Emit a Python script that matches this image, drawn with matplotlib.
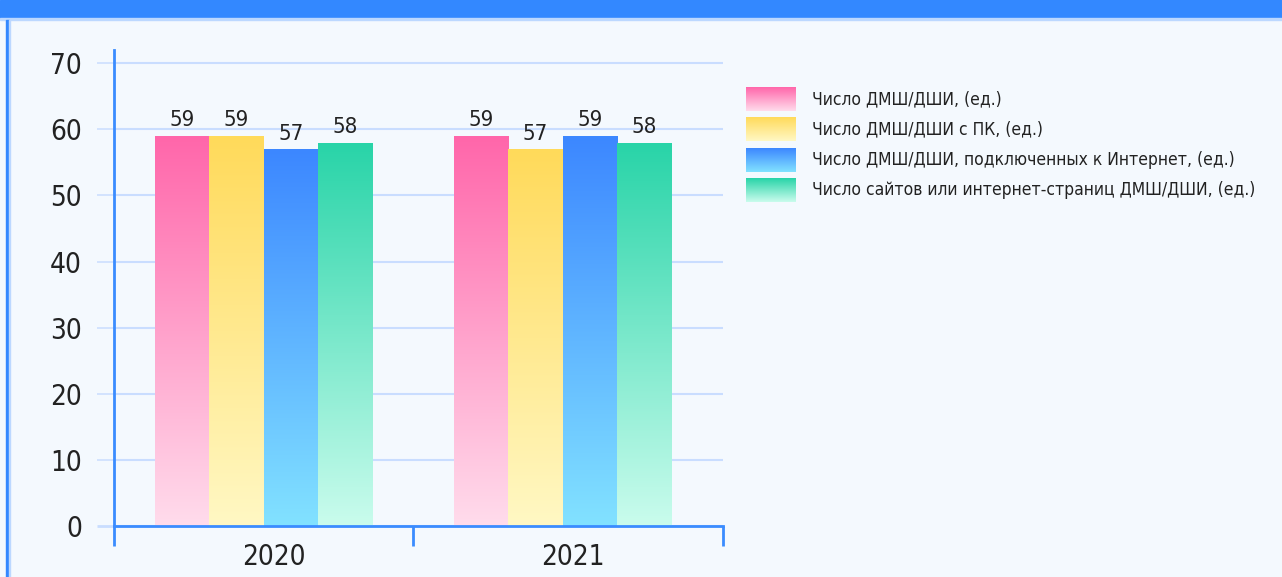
import matplotlib
matplotlib.use("Agg")
import matplotlib.pyplot as plt
import numpy as np
from matplotlib.colors import LinearSegmentedColormap
from matplotlib.patches import Rectangle
from matplotlib.transforms import ScaledTranslation

plt.rcParams["font.family"] = ["DejaVu Sans"]
plt.rcParams["font.stretch"] = "condensed"

years = ["2020", "2021"]
series_labels = [
    "Число ДМШ/ДШИ, (ед.)",
    "Число ДМШ/ДШИ с ПК, (ед.)",
    "Число ДМШ/ДШИ, подключенных к Интернет, (ед.)",
    "Число сайтов или интернет-страниц ДМШ/ДШИ, (ед.)",
]
schools = [59, 59]
schools_with_pc = [59, 57]
schools_online = [57, 59]
school_websites = [58, 58]
series = [schools, schools_with_pc, schools_online, school_websites]

# (top, bottom) colours of each vertical gradient
gradients = [
    ("#ff66aa", "#ffdcec"),
    ("#ffda5a", "#fff8c4"),
    ("#3c87ff", "#82e2ff"),
    ("#28d4a8", "#cafced"),
]

BLUE = "#3a8cff"
GRID = "#c9ddff"
TEXT = "#222222"

W, H = 1282, 577
fig = plt.figure(figsize=(W / 100, H / 100), dpi=100, facecolor="#f4f9fe")


def fx(px):
    return px / W


def fy(py):
    return 1 - py / H


# panel frame: header strip and left border
fig.patches.append(Rectangle((0, fy(18)), 1, 18 / H, transform=fig.transFigure,
                             color="#3388ff", zorder=0))
fig.patches.append(Rectangle((0, fy(20)), 1, 2 / H, transform=fig.transFigure,
                             color="#bcd8ff", zorder=0))
fig.patches.append(Rectangle((fx(6), 0), 2.5 / W, fy(20), transform=fig.transFigure,
                             color="#3388ff", zorder=0))
fig.patches.append(Rectangle((fx(8.5), 0), 1.2 / W, fy(20), transform=fig.transFigure,
                             color="#bcd8ff", zorder=0))

ax = fig.add_axes([fx(114), fy(526), fx(723 - 114), (526 - 50) / H])
ax.set_facecolor("none")

bar_w = 0.182
x = np.arange(len(years))
grad = np.linspace(0, 1, 256).reshape(-1, 1)
for i, (vals, (top, bottom)) in enumerate(zip(series, gradients)):
    cmap = LinearSegmentedColormap.from_list(f"g{i}", [bottom, top])
    bars = ax.bar(x + (i - 1.5) * bar_w, vals, bar_w, color="none", edgecolor="none")
    for b, v in zip(bars, vals):
        x0 = b.get_x()
        im = ax.imshow(grad, extent=[x0, x0 + b.get_width(), 0, v], origin="lower",
                       aspect="auto", cmap=cmap, zorder=2)
        im.set_clip_path(b)
        ax.annotate(str(v), (x0 + b.get_width() / 2, v), xytext=(0, 4),
                    textcoords="offset points", ha="center", va="bottom",
                    fontsize=16, color=TEXT)

ax.set_xlim(-0.5, -0.5 + 609 / 299)
ax.set_ylim(0, 72)

ax.set_yticks(range(0, 71, 10))
ax.grid(axis="y", color=GRID, linewidth=1.5)
ax.set_axisbelow(True)
ax.tick_params(axis="y", length=12.2, width=1.1, color=GRID, pad=10.8,
               labelsize=20, labelcolor=TEXT)
t0 = ax.yaxis.get_major_ticks()[0].tick1line
t0.set_color(BLUE)
t0.set_markeredgewidth(2)

ax.set_xticks(x)
ax.set_xticklabels(years)
ax.set_xticks([-0.5, 0.5, ax.get_xlim()[1]], minor=True)
ax.tick_params(axis="x", which="major", length=0, pad=12, labelsize=20, labelcolor=TEXT)
ax.tick_params(axis="x", which="minor", length=14.4, width=2, color=BLUE, direction="out")
for lbl in ax.get_xticklabels():
    lbl.set_transform(lbl.get_transform() + ScaledTranslation(0.1, 0, fig.dpi_scale_trans))

for side in ("top", "right"):
    ax.spines[side].set_visible(False)
for side in ("left", "bottom"):
    ax.spines[side].set_color(BLUE)
    ax.spines[side].set_linewidth(2)

# legend with gradient swatches
row_tops = [87, 117, 148, 178]
for label, (top, bottom), ry in zip(series_labels, gradients, row_tops):
    sw = fig.add_axes([fx(746), fy(ry + 24), 50 / W, 24 / H])
    cmap = LinearSegmentedColormap.from_list("sw", [bottom, top])
    sw.imshow(grad, origin="lower", aspect="auto", cmap=cmap, extent=[0, 1, 0, 1])
    sw.set_axis_off()
    fig.text(fx(812), fy(ry + 12), label, ha="left", va="center",
             fontsize=12.5, color=TEXT)

fig.savefig("out.png", dpi=100, facecolor=fig.get_facecolor())
